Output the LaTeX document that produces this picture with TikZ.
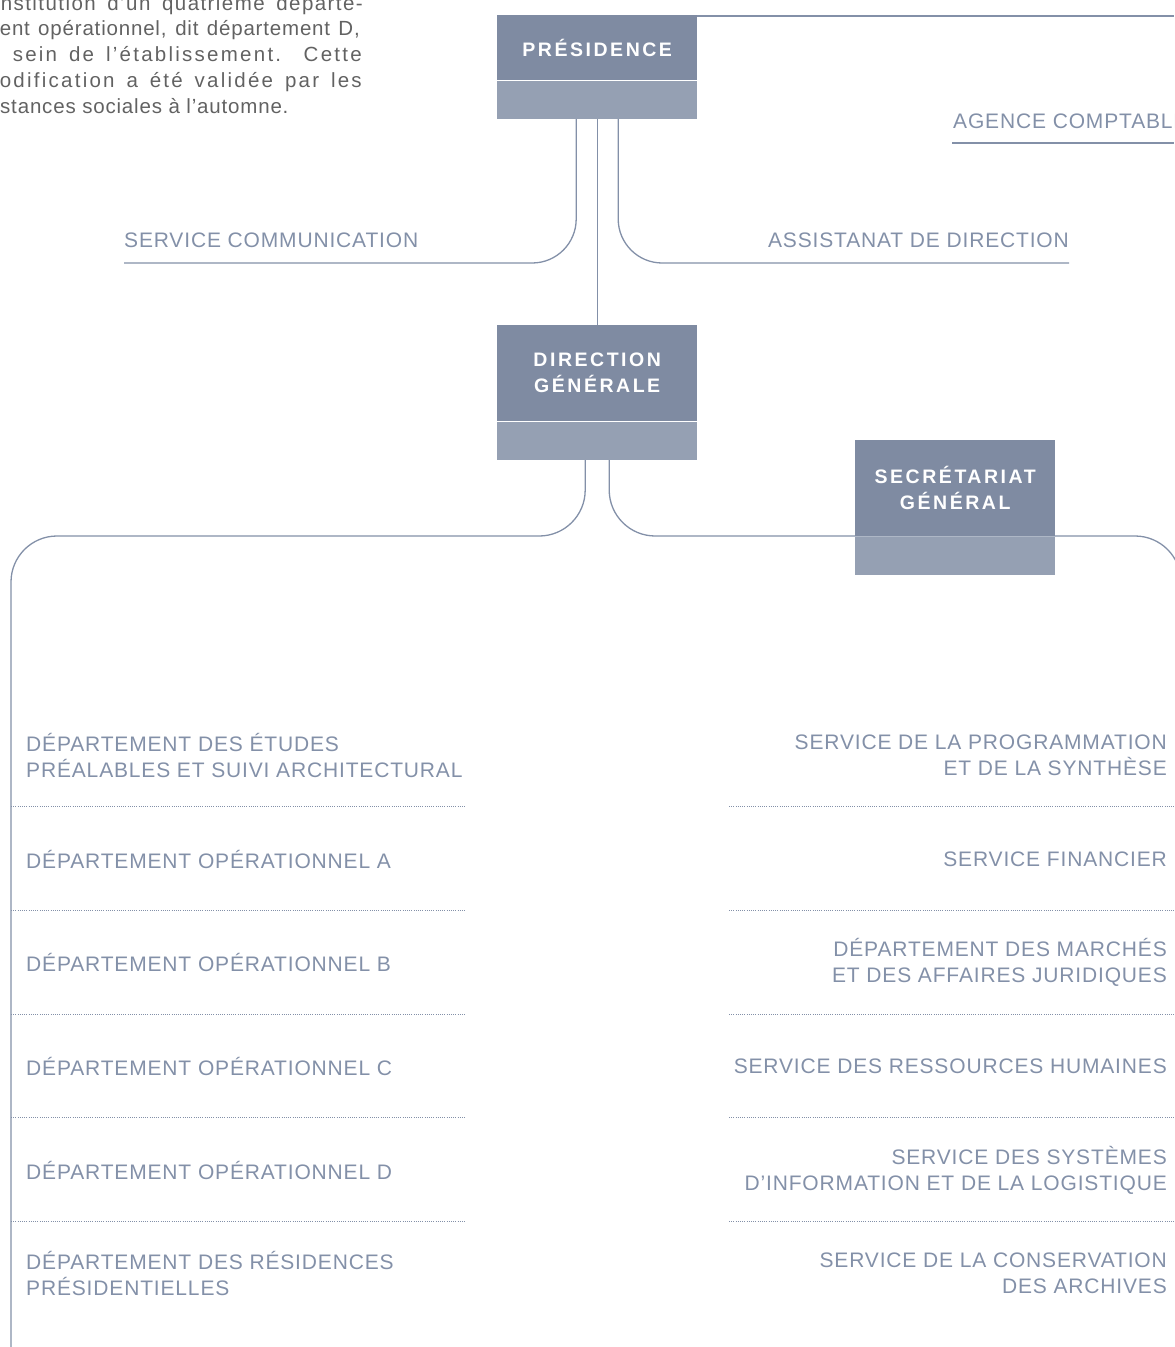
\documentclass[tikz,border=0pt]{standalone}
\usepackage{fontspec}
\setmainfont{Liberation Sans}
\newfontfamily\lblfont[LetterSpace=4]{Liberation Sans}
\newfontfamily\parafont[LetterSpace=4]{Liberation Sans}
\newfontfamily\parafontB[LetterSpace=7]{Liberation Sans}
\newfontfamily\parafontC[LetterSpace=11]{Liberation Sans}
\newfontfamily\boxfont[LetterSpace=13]{Liberation Sans}
\usetikzlibrary{backgrounds}
\definecolor{boxdark}{HTML}{7F8BA2}
\definecolor{boxlight}{HTML}{95A0B3}
\definecolor{linecol}{HTML}{8390A8}
\definecolor{lbltext}{HTML}{8390A8}
\definecolor{paratext}{HTML}{626262}
\begin{document}
\begin{tikzpicture}[x=1bp,y=-1bp,
  headbox/.style={fill=boxdark, text=white, minimum width=200bp, inner sep=0pt, anchor=north west, align=center, font=\boxfont\bfseries\fontsize{19.5bp}{26bp}\selectfont},
  footbox/.style={fill=boxlight, minimum width=200bp, minimum height=38bp, inner sep=0pt, anchor=north},
  conn/.style={draw=linecol, line width=1.3bp},
  lbl/.style={text=lbltext, inner sep=0pt, font=\lblfont\fontsize{21bp}{26bp}\selectfont},
  sep/.style={draw=linecol, line width=0.8bp, dash pattern=on 1bp off 1.2bp},
  para/.style={text=paratext, inner sep=0pt, anchor=base east, font=\fontsize{20.5bp}{26bp}\selectfont}
]
\useasboundingbox (0,0) rectangle (1174,1347);
\clip (0,0) rectangle (1174,1347);

% intro paragraph (cut by the page edge)
\node[para] (p1) at (363,11) {\parafontB\makebox[362bp][s]{nstitution d’un quatrième départe-}};
\node[para] (p2) at (360,36) {\parafont\makebox[360bp][s]{ent opérationnel, dit département D,}};
\node[para] (p3) at (362,62) {\parafontC\makebox[349bp][s]{sein de l’établissement. Cette}};
\node[para] (p4) at (362,88) {\parafontC\makebox[362bp][s]{odification a été validée par les}};
\node[para, anchor=base west] (p5) at (0,114) {\parafont stances sociales à l’automne.};

% boxes
\node[headbox, minimum height=65bp] (pres) at (497,15) {PRÉSIDENCE};
\node[footbox] (presfoot) at (pres.south) {};
\node[headbox, minimum height=96bp] (dg) at (497,325) {DIRECTION\\GÉNÉRALE};
\node[footbox] (dgfoot) at (dg.south) {};
\node[headbox, minimum height=96bp] (sg) at (855,440) {SECRÉTARIAT\\GÉNÉRAL};
\node[footbox] (sgfoot) at (sg.south) {};

% top labels
\node[lbl, anchor=base west] (agence) at (953,129) {AGENCE COMPTABLE};
\node[lbl, anchor=base west] (com) at (124,248) {SERVICE COMMUNICATION};
\node[lbl, anchor=base east] (assist) at (1069,248) {ASSISTANAT DE DIRECTION};

\coordinate (topEnd) at (1174,16);
\coordinate (agL) at (952,143);
\coordinate (agR) at (1174,143);
\coordinate (comEnd) at (124,263);
\coordinate (asEnd) at (1069,263);
\coordinate (lcorner) at (11,536);
\coordinate (trunkEnd) at (11,1347);
\coordinate (rcorner) at (1181,536);
\coordinate (rEnd) at (1181,1347);

% left column
\node[lbl, anchor=west, align=left] (l1) at (26,755) {DÉPARTEMENT DES ÉTUDES\\PRÉALABLES ET SUIVI ARCHITECTURAL};
\node[lbl, anchor=west, align=left] (l2) at (26,859) {DÉPARTEMENT OPÉRATIONNEL A};
\node[lbl, anchor=west, align=left] (l3) at (26,962) {DÉPARTEMENT OPÉRATIONNEL B};
\node[lbl, anchor=west, align=left] (l4) at (26,1066) {DÉPARTEMENT OPÉRATIONNEL C};
\node[lbl, anchor=west, align=left] (l5) at (26,1170) {DÉPARTEMENT OPÉRATIONNEL D};
\node[lbl, anchor=west, align=left] (l6) at (26,1273) {DÉPARTEMENT DES RÉSIDENCES\\PRÉSIDENTIELLES};

% right column
\node[lbl, anchor=east, align=right] (r1) at (1167,755) {SERVICE DE LA PROGRAMMATION\\ET DE LA SYNTHÈSE};
\node[lbl, anchor=east, align=right] (r2) at (1167,859) {SERVICE FINANCIER};
\node[lbl, anchor=east, align=right] (r3) at (1167,962) {DÉPARTEMENT DES MARCHÉS\\ET DES AFFAIRES JURIDIQUES};
\node[lbl, anchor=east, align=right] (r4) at (1167,1066) {SERVICE DES RESSOURCES HUMAINES};
\node[lbl, anchor=east, align=right] (r5) at (1167,1170) {SERVICE DES SYSTÈMES\\D’INFORMATION ET DE LA LOGISTIQUE};
\node[lbl, anchor=east, align=right] (r6) at (1167,1273) {SERVICE DE LA CONSERVATION\\DES ARCHIVES};

% separators
\foreach \yy in {806,910,1014,1117,1221} {
  \draw[sep] (11,\yy) -- (465,\yy);
  \draw[sep] (729,\yy) -- (1174,\yy);
}

\begin{pgfonlayer}{background}
  \draw[conn] (pres.north east |- topEnd) -- (topEnd);
  \draw[conn] (agL) -- (agR);
  \draw[conn, rounded corners=44bp] ([xshift=-21bp]presfoot.south) |- (comEnd);
  \draw[conn, rounded corners=44bp] ([xshift=21bp]presfoot.south) |- (asEnd);
  \draw[conn] (presfoot.south) -- (dg.north);
  \draw[conn, rounded corners=46bp] ([xshift=-12bp]dgfoot.south) |- (lcorner) -- (trunkEnd);
  \draw[conn, rounded corners=46bp] ([xshift=12bp]dgfoot.south) |- (rcorner) -- (rEnd);
\end{pgfonlayer}
\end{tikzpicture}
\end{document}
